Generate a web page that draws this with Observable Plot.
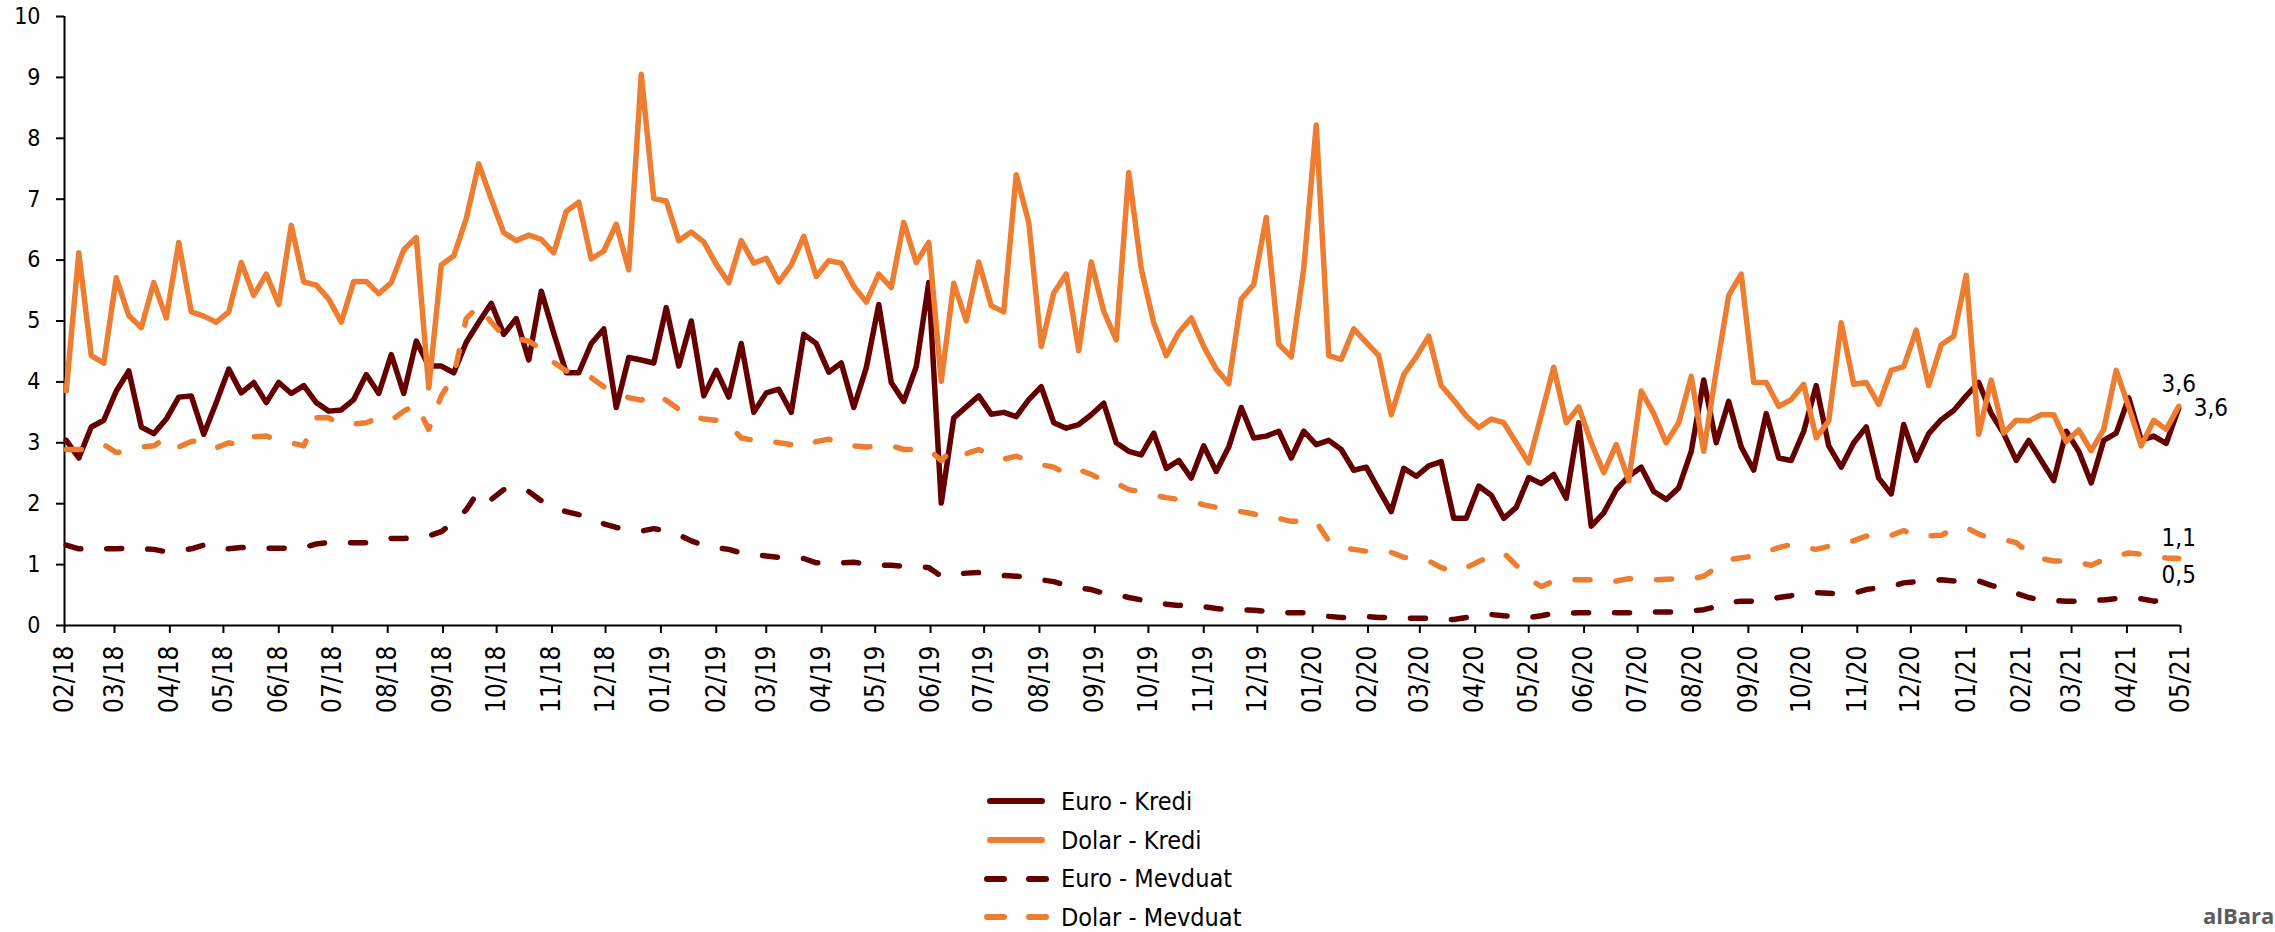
<!DOCTYPE html>
<html>
<head>
<meta charset="utf-8">
<script src="https://cdn.jsdelivr.net/npm/d3@7"></script>
<script src="https://cdn.jsdelivr.net/npm/@observablehq/plot@0.6"></script>
<style>
  html, body { margin: 0; padding: 0; background: #fff; overflow: hidden; }
  #wrap { position: relative; width: 2275px; height: 932px; overflow: hidden; background: #fff; }
  #chart { position: absolute; left: 0; top: 0; }
  #legend { position: absolute; left: 980px; top: 782px; font-family: "DejaVu Sans Condensed", "Open Sans", sans-serif; font-size: 25px; color: #000; }
  .row { display: flex; align-items: center; height: 38.7px; white-space: nowrap; }
  .row svg { width: 70px; height: 14px; margin-right: 11px; flex: none; }
  #wm { position: absolute; left: 2203px; top: 900px; font-family: "Open Sans", sans-serif; font-weight: 700; font-size: 22px; color: #5c5c5c; white-space: nowrap; }
</style>
</head>
<body>
<div id="wrap">
  <div id="chart"></div>
  <div id="legend"></div>
  <div id="wm">alBara</div>
</div>
<script>
// ---- DATA (weekly observations, first on 2018-02-02) ----
const firstWeek = [2018, 1, 2];
const seriesNames = ["Euro - Kredi", "Dolar - Kredi", "Euro - Mevduat", "Dolar - Mevduat"];
const seriesColors = ["#640000", "#ED7D31", "#640000", "#ED7D31"];
const seriesDashed = [false, false, true, true];

const euroKredi = [
  3.04, 2.75, 3.26, 3.37, 3.85, 4.18, 3.26, 3.15, 3.39, 3.75,
  3.77, 3.14, 3.66, 4.21, 3.82, 3.99, 3.66, 3.99, 3.81, 3.94,
  3.66, 3.52, 3.54, 3.71, 4.12, 3.81, 4.45, 3.81, 4.67, 4.26,
  4.26, 4.15, 4.65, 4.98, 5.29, 4.78, 5.04, 4.36, 5.49, 4.80,
  4.15, 4.15, 4.63, 4.87, 3.58, 4.40, 4.36, 4.31, 5.22, 4.26,
  5.00, 3.77, 4.19, 3.75, 4.63, 3.50, 3.82, 3.88, 3.50, 4.78,
  4.63, 4.16, 4.31, 3.58, 4.23, 5.27, 3.99, 3.68, 4.25, 5.63,
  2.01, 3.41, 3.59, 3.77, 3.47, 3.50, 3.43, 3.71, 3.92, 3.33,
  3.24, 3.30, 3.46, 3.65, 3.00, 2.86, 2.80, 3.16, 2.58, 2.71,
  2.42, 2.95, 2.53, 2.93, 3.58, 3.08, 3.11, 3.19, 2.75, 3.19,
  2.97, 3.04, 2.89, 2.55, 2.60, 2.23, 1.87, 2.58, 2.45, 2.62,
  2.69, 1.76, 1.76, 2.29, 2.14, 1.76, 1.94, 2.43, 2.33, 2.48,
  2.09, 3.33, 1.63, 1.85, 2.23, 2.45, 2.60, 2.20, 2.07, 2.26,
  2.86, 4.03, 3.00, 3.68, 2.93, 2.55, 3.48, 2.75, 2.71, 3.19,
  3.94, 2.95, 2.60, 3.00, 3.26, 2.42, 2.16, 3.30, 2.71, 3.15,
  3.38, 3.53, 3.77, 3.99, 3.48, 3.15, 2.71, 3.04, 2.71, 2.38,
  3.19, 2.86, 2.34, 3.04, 3.16, 3.74, 3.04, 3.11, 2.99, 3.57
];
const dolarKredi = [
  3.85, 6.12, 4.43, 4.31, 5.71, 5.09, 4.89, 5.63, 5.05, 6.29,
  5.15, 5.08, 4.98, 5.15, 5.96, 5.42, 5.77, 5.27, 6.57, 5.64,
  5.59, 5.36, 4.98, 5.65, 5.65, 5.45, 5.63, 6.17, 6.37, 3.90,
  5.92, 6.07, 6.68, 7.58, 7.00, 6.45, 6.32, 6.41, 6.34, 6.12,
  6.80, 6.95, 6.02, 6.15, 6.59, 5.84, 9.05, 7.01, 6.97, 6.32,
  6.46, 6.30, 5.93, 5.63, 6.32, 5.95, 6.03, 5.64, 5.92, 6.39,
  5.73, 5.99, 5.95, 5.57, 5.31, 5.77, 5.55, 6.62, 5.96, 6.29,
  4.01, 5.62, 5.00, 5.97, 5.25, 5.15, 7.40, 6.62, 4.58, 5.46,
  5.77, 4.51, 5.97, 5.16, 4.69, 7.44, 5.86, 4.97, 4.43, 4.81,
  5.05, 4.58, 4.21, 3.97, 5.36, 5.60, 6.70, 4.62, 4.41, 5.86,
  8.22, 4.43, 4.37, 4.87, 4.65, 4.43, 3.46, 4.12, 4.41, 4.75,
  3.94, 3.70, 3.44, 3.25, 3.39, 3.33, 3.00, 2.67, 3.45, 4.24,
  3.33, 3.59, 3.00, 2.51, 2.97, 2.38, 3.85, 3.48, 3.00, 3.33,
  4.09, 2.86, 4.18, 5.42, 5.77, 3.99, 3.99, 3.60, 3.71, 3.96,
  3.08, 3.36, 4.97, 3.96, 3.99, 3.63, 4.19, 4.25, 4.85, 3.94,
  4.61, 4.75, 5.75, 3.14, 4.03, 3.16, 3.37, 3.36, 3.46, 3.46,
  3.02, 3.21, 2.87, 3.22, 4.19, 3.59, 2.95, 3.37, 3.22, 3.60
];
const euroMevduat = [
  1.32, 1.26, 1.25, 1.26, 1.26, 1.27, 1.26, 1.25, 1.21, 1.23,
  1.26, 1.32, 1.26, 1.26, 1.28, 1.28, 1.27, 1.27, 1.27, 1.28,
  1.34, 1.36, 1.36, 1.36, 1.36, 1.38, 1.43, 1.43, 1.44, 1.47,
  1.54, 1.70, 1.90, 2.21, 2.07, 2.23, 2.16, 2.20, 2.05, 1.94,
  1.87, 1.82, 1.76, 1.67, 1.61, 1.58, 1.55, 1.59, 1.55, 1.49,
  1.39, 1.32, 1.28, 1.25, 1.19, 1.17, 1.14, 1.12, 1.11, 1.10,
  1.03, 1.03, 1.03, 1.04, 1.01, 0.99, 0.99, 0.97, 0.97, 0.95,
  0.81, 0.84, 0.86, 0.87, 0.84, 0.82, 0.81, 0.79, 0.75, 0.72,
  0.66, 0.62, 0.59, 0.53, 0.51, 0.46, 0.42, 0.40, 0.35, 0.33,
  0.34, 0.31, 0.28, 0.26, 0.26, 0.25, 0.23, 0.21, 0.21, 0.21,
  0.18, 0.15, 0.13, 0.14, 0.15, 0.13, 0.13, 0.12, 0.12, 0.12,
  0.10, 0.10, 0.13, 0.16, 0.18, 0.16, 0.15, 0.13, 0.16, 0.20,
  0.20, 0.21, 0.21, 0.22, 0.21, 0.21, 0.22, 0.22, 0.22, 0.23,
  0.24, 0.26, 0.31, 0.38, 0.40, 0.40, 0.41, 0.46, 0.49, 0.53,
  0.54, 0.53, 0.51, 0.53, 0.59, 0.62, 0.64, 0.70, 0.72, 0.73,
  0.75, 0.73, 0.75, 0.73, 0.66, 0.60, 0.53, 0.46, 0.42, 0.41,
  0.40, 0.40, 0.41, 0.42, 0.44, 0.45, 0.44, 0.40, 0.42, 0.46
];
const dolarMevduat = [
  2.89, 2.89, 2.89, 2.97, 2.84, 2.86, 2.93, 2.95, 3.08, 2.93,
  3.02, 3.04, 2.92, 3.00, 2.95, 3.10, 3.11, 3.04, 3.00, 2.95,
  3.41, 3.41, 3.30, 3.31, 3.33, 3.41, 3.37, 3.52, 3.63, 3.22,
  3.77, 4.10, 5.04, 5.25, 4.98, 4.76, 4.71, 4.67, 4.54, 4.32,
  4.18, 4.14, 4.07, 3.92, 3.83, 3.74, 3.70, 3.81, 3.70, 3.55,
  3.44, 3.39, 3.37, 3.30, 3.08, 3.04, 3.04, 3.00, 2.97, 2.93,
  3.02, 3.06, 2.98, 2.95, 2.93, 2.95, 2.95, 2.89, 2.89, 2.89,
  2.71, 2.91, 2.82, 2.89, 2.80, 2.73, 2.78, 2.71, 2.64, 2.60,
  2.49, 2.56, 2.48, 2.38, 2.34, 2.23, 2.20, 2.14, 2.10, 2.07,
  2.05, 1.98, 1.94, 1.90, 1.87, 1.83, 1.79, 1.76, 1.71, 1.71,
  1.70, 1.39, 1.28, 1.25, 1.22, 1.22, 1.20, 1.12, 1.10, 1.06,
  0.95, 0.88, 0.95, 1.05, 1.14, 1.19, 0.99, 0.77, 0.64, 0.73,
  0.75, 0.75, 0.75, 0.74, 0.73, 0.77, 0.75, 0.75, 0.76, 0.77,
  0.76, 0.81, 0.95, 1.08, 1.11, 1.14, 1.21, 1.28, 1.33, 1.28,
  1.25, 1.30, 1.36, 1.39, 1.47, 1.43, 1.48, 1.56, 1.47, 1.47,
  1.48, 1.59, 1.61, 1.50, 1.43, 1.41, 1.36, 1.19, 1.10, 1.06,
  1.06, 1.03, 0.99, 1.08, 1.14, 1.19, 1.17, 1.14, 1.11, 1.10
];
const yTicks = [0, 1, 2, 3, 4, 5, 6, 7, 8, 9, 10];
const xDomain = [new Date(Date.UTC(2018, 1, 1)), new Date(Date.UTC(2021, 4, 1))];

// ---- BUILD ----
const start = new Date(Date.UTC(...firstWeek));
const weeks = euroKredi.map((_, i) => d3.utcDay.offset(start, 7 * i));
const allValues = [euroKredi, dolarKredi, euroMevduat, dolarMevduat];
const seriesData = allValues.map((vals, s) => vals.map((v, i) => ({ date: weeks[i], value: v, series: seriesNames[s] })));
const monthTicks = d3.utcMonth.range(xDomain[0], d3.utcDay.offset(xDomain[1], 1));
const fmt = v => v.toFixed(1).replace(".", ",");
const last = s => seriesData[s][seriesData[s].length - 1];

const numFont = '"DejaVu Sans Condensed", "Open Sans", sans-serif';
const narrowFont = '"Liberation Sans Narrow", "Arial Narrow", "DejaVu Sans Condensed", sans-serif';

const lineMarks = [0, 1, 2, 3].map(s => Plot.line(seriesData[s], {
  x: "date", y: "value",
  stroke: seriesColors[s],
  strokeWidth: 5.5,
  strokeLinejoin: "round",
  strokeLinecap: "round",
  strokeDasharray: seriesDashed[s] ? "15 26" : null
}));

const labelOpts = [
  { textAnchor: "start", lineAnchor: "middle", dx: 15, dy: 0 },
  { textAnchor: "middle", lineAnchor: "bottom", dx: 0, dy: -14 },
  { textAnchor: "middle", lineAnchor: "bottom", dx: 0, dy: -14 },
  { textAnchor: "middle", lineAnchor: "bottom", dx: 0, dy: -13 }
];
const labelMarks = [0, 1, 2, 3].map(s => Plot.text([last(s)], {
  x: "date", y: "value", text: d => fmt(d.value),
  ...labelOpts[s],
  fontSize: 24, fontFamily: numFont, fill: "#000"
}));

const chart = Plot.plot({
  width: 2275, height: 700,
  marginLeft: 64, marginRight: 95, marginTop: 16, marginBottom: 75,
  x: { type: "utc", domain: xDomain },
  y: { domain: [0, 10] },
  style: { background: "white", overflow: "visible", color: "#000" },
  marks: [
    Plot.axisY({ ticks: yTicks, tickSize: 8, tickPadding: 16, tickFormat: d => String(d), fontSize: 23, fontFamily: numFont, strokeWidth: 2, stroke: "#000", fill: "#000", label: null }),
    Plot.axisX({ ticks: monthTicks, tickFormat: d3.utcFormat("%m/%y"), tickRotate: -90, tickSize: 8, tickPadding: 12, fontSize: 26, fontFamily: narrowFont, strokeWidth: 2, stroke: "#000", fill: "#000", label: null }),
    Plot.ruleX([xDomain[0]], { stroke: "#000", strokeWidth: 2 }),
    Plot.ruleY([0], { stroke: "#000", strokeWidth: 2 }),
    ...lineMarks,
    ...labelMarks
  ]
});
document.getElementById("chart").appendChild(chart);

// ---- LEGEND ----
const legend = document.getElementById("legend");
seriesNames.forEach((name, s) => {
  const row = document.createElement("div");
  row.className = "row";
  const line = seriesDashed[s]
    ? `<line x1="7" x2="66" y1="7" y2="7" stroke="${seriesColors[s]}" stroke-width="6" stroke-linecap="round" stroke-dasharray="17 25"/>`
    : `<line x1="10" x2="62" y1="7" y2="7" stroke="${seriesColors[s]}" stroke-width="6" stroke-linecap="round"/>`;
  row.innerHTML = `<svg viewBox="0 0 70 14">${line}</svg><span>${name}</span>`;
  legend.appendChild(row);
});
</script>
</body>
</html>
